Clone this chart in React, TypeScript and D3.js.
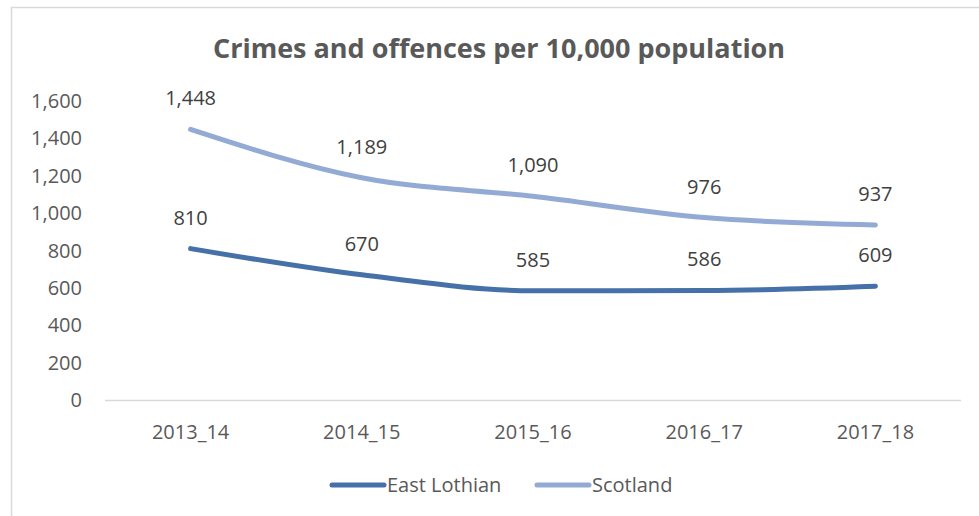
import React, { useEffect } from "react";
import * as d3 from "d3";

const categories = ["2013_14", "2014_15", "2015_16", "2016_17", "2017_18"];
const eastLothian = [810, 670, 585, 586, 609];
const scotland = [1448, 1189, 1090, 976, 937];
const yTicks = [0, 200, 400, 600, 800, 1000, 1200, 1400, 1600];
const seriesNames = ["East Lothian", "Scotland"];
const title = "Crimes and offences per 10,000 population";

const W = 979;
const H = 516;
const FONT = "'Open Sans', sans-serif";
const TEXT = "#595959";
const COLORS = ["#4570a8", "#93abd4"];

export default function App() {
  useEffect(() => {
    document.body.style.margin = "0";
  }, []);

  const x = d3.scaleBand<string>().domain(categories).range([105, 961]);
  const y = d3.scaleLinear().domain([0, 1600]).range([400, 101]);
  const fmt = d3.format(",");
  const line = d3
    .line<number>()
    .x((_, i) => (x(categories[i]) as number) + x.bandwidth() / 2)
    .y((d) => y(d))
    .curve(d3.curveMonotoneX);

  const series = [eastLothian, scotland];

  return (
    <svg width={W} height={H} style={{ display: "block", fontFamily: FONT }}>
      <rect x={0} y={0} width={W} height={H} fill="#fff" />
      <rect x={11.5} y={7.5} width={1000} height={600} fill="#fff" stroke="#d9d9d9" strokeWidth={1.5} />
      <text x={499} y={58} textAnchor="middle" fontSize={27} fontWeight="bold" fill={TEXT}>
        {title}
      </text>
      {yTicks.map((t) => (
        <text key={t} x={82} y={y(t)} dy="0.35em" textAnchor="end" fontSize={20} fill={TEXT}>
          {fmt(t)}
        </text>
      ))}
      <line x1={105} x2={961} y1={y(0) + 0.5} y2={y(0) + 0.5} stroke="#d9d9d9" strokeWidth={1.5} />
      {categories.map((c) => (
        <text key={c} x={(x(c) as number) + x.bandwidth() / 2} y={432} dy="0.35em" textAnchor="middle" fontSize={20} fill={TEXT}>
          {c}
        </text>
      ))}
      {series.map((s, si) => (
        <g key={si}>
          <path d={line(s) || ""} fill="none" stroke={COLORS[si]} strokeWidth={5} strokeLinecap="round" strokeLinejoin="round" />
          {s.map((v, i) => (
            <text key={i} x={(x(categories[i]) as number) + x.bandwidth() / 2} y={y(v) - 31} dy="0.35em" textAnchor="middle" fontSize={20} fill="#404040">
              {fmt(v)}
            </text>
          ))}
        </g>
      ))}
      {seriesNames.map((n, i) => {
        const lx = i === 0 ? 332 : 537;
        return (
          <g key={n}>
            <line x1={lx} x2={lx + 52} y1={485} y2={485} stroke={COLORS[i]} strokeWidth={5} strokeLinecap="round" />
            <text x={lx + 55} y={485} dy="0.35em" fontSize={20} fill={TEXT}>
              {n}
            </text>
          </g>
        );
      })}
    </svg>
  );
}
